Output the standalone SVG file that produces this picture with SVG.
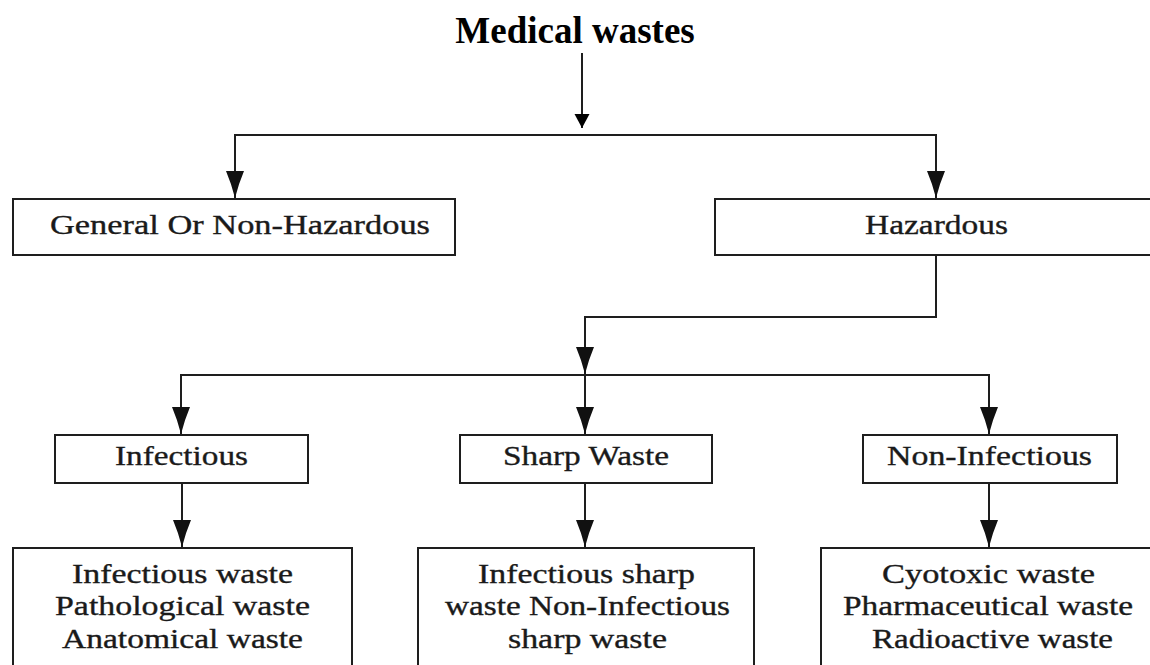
<svg xmlns="http://www.w3.org/2000/svg" width="1150" height="665" viewBox="0 0 1150 665">
<style>
.box{fill:#fff;stroke:#1e1e1e;stroke-width:2}
.ln{fill:none;stroke:#1e1e1e;stroke-width:2}
.t{font-family:"Liberation Serif","Times New Roman",serif;font-size:28px;fill:#1a1a1a;stroke:#1a1a1a;stroke-width:0.35;text-anchor:middle}
.s{font-size:27px}
.title{font-family:"Liberation Serif","Times New Roman",serif;font-size:37px;font-weight:bold;fill:#000;text-anchor:middle}
</style>
<defs>
<marker id="ah" markerUnits="userSpaceOnUse" markerWidth="30" markerHeight="22" refX="27" refY="0" viewBox="0 -11 30 22" orient="auto">
<path d="M0,-9 Q13,-3.5 27,0 Q13,3.5 0,9 Z" fill="#111"/>
</marker>
<marker id="ah2" markerUnits="userSpaceOnUse" markerWidth="16" markerHeight="18" refX="14" refY="0" viewBox="0 -9 16 18" orient="auto">
<path d="M0,-7.5 L14,0 L0,7.5 Z" fill="#000"/>
</marker>
</defs>
<rect width="1150" height="665" fill="#fff"/>

<g id="connectors">
<line class="ln" x1="582" y1="53" x2="582" y2="128" marker-end="url(#ah2)"/>
<path class="ln" d="M235,199 V135 H936 V199"/>
<line class="ln" x1="235" y1="135" x2="235" y2="198" marker-end="url(#ah)"/>
<line class="ln" x1="936" y1="135" x2="936" y2="198" marker-end="url(#ah)"/>
<path class="ln" d="M936,255 V317 H585 V374" marker-end="url(#ah)"/>
<path class="ln" d="M181,435 V375 H989 V435"/>
<line class="ln" x1="181" y1="375" x2="181" y2="434" marker-end="url(#ah)"/>
<line class="ln" x1="585" y1="374" x2="585" y2="434" marker-end="url(#ah)"/>
<line class="ln" x1="989" y1="375" x2="989" y2="434" marker-end="url(#ah)"/>
<line class="ln" x1="182" y1="483" x2="182" y2="547" marker-end="url(#ah)"/>
<line class="ln" x1="585" y1="483" x2="585" y2="547" marker-end="url(#ah)"/>
<line class="ln" x1="989" y1="483" x2="989" y2="547" marker-end="url(#ah)"/>
</g>

<g id="title">
<text class="title" x="575" y="43">Medical wastes</text>
</g>

<g id="general">
<rect class="box" x="13" y="199" width="442" height="56"/>
<text class="t" x="240" y="234" textLength="380" lengthAdjust="spacingAndGlyphs">General Or Non-Hazardous</text>
</g>

<g id="hazardous">
<rect class="box" x="715" y="199" width="460" height="56"/>
<text class="t" x="936.5" y="234" textLength="143" lengthAdjust="spacingAndGlyphs">Hazardous</text>
</g>

<g id="infectious">
<rect class="box" x="55" y="435" width="253" height="48"/>
<text class="t" x="181.5" y="465" textLength="133" lengthAdjust="spacingAndGlyphs">Infectious</text>
</g>

<g id="sharp">
<rect class="box" x="460" y="435" width="252" height="48"/>
<text class="t" x="586" y="465" textLength="166" lengthAdjust="spacingAndGlyphs">Sharp Waste</text>
</g>

<g id="noninfectious">
<rect class="box" x="863" y="435" width="254" height="48"/>
<text class="t" x="989.5" y="465" textLength="205" lengthAdjust="spacingAndGlyphs">Non-Infectious</text>
</g>

<g id="infectious-types">
<rect class="box" x="13" y="548" width="339" height="140"/>
<text class="t s" x="182.5" y="583" textLength="221" lengthAdjust="spacingAndGlyphs">Infectious waste</text>
<text class="t s" x="182.5" y="615" textLength="255" lengthAdjust="spacingAndGlyphs">Pathological waste</text>
<text class="t s" x="182.5" y="648" textLength="241" lengthAdjust="spacingAndGlyphs">Anatomical waste</text>
</g>

<g id="sharp-types">
<rect class="box" x="418" y="548" width="336" height="140"/>
<text class="t s" x="586.5" y="583" textLength="217" lengthAdjust="spacingAndGlyphs">Infectious sharp</text>
<text class="t s" x="587.5" y="615" textLength="285" lengthAdjust="spacingAndGlyphs">waste Non-Infectious</text>
<text class="t s" x="587.5" y="648" textLength="159" lengthAdjust="spacingAndGlyphs">sharp waste</text>
</g>

<g id="noninfectious-types">
<rect class="box" x="821" y="548" width="360" height="140"/>
<text class="t s" x="988.5" y="583" textLength="213" lengthAdjust="spacingAndGlyphs">Cyotoxic waste</text>
<text class="t s" x="988" y="615" textLength="290" lengthAdjust="spacingAndGlyphs">Pharmaceutical waste</text>
<text class="t s" x="992.5" y="648" textLength="241" lengthAdjust="spacingAndGlyphs">Radioactive waste</text>
</g>
</svg>
